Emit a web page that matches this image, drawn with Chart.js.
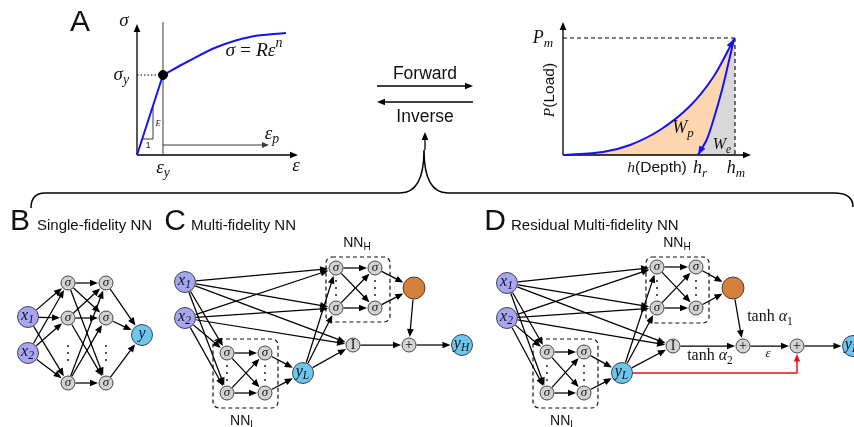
<!DOCTYPE html>
<html>
<head>
<meta charset="utf-8">
<script src="https://cdn.jsdelivr.net/npm/chart.js@4.4.1/dist/chart.umd.min.js"></script>
<style>
html, body { margin: 0; padding: 0; background: #fff; }
canvas { display: block; }
</style>
</head>
<body>
<canvas id="fig" width="854" height="427"></canvas>
<script>
// Diagram coordinates are in the chart's own x/y units (0..854, 0..427, y down)

// Panel A, stress-strain sketch
const elasticLine = [[137, 155], [163, 75]];
const hardeningCurve = [[163, 75], [187, 62], [217, 47], [250, 37], [286, 33]];
const yieldPoint = [[163, 75]];

// Panel A, load-depth sketch
const loadingCurve = [[563, 155], [603, 152], [630, 145], [660, 130], [690, 106], [714, 76], [734, 39]];
const unloadingCurve = [[734, 39], [728, 65], [722, 90], [714, 118], [707, 139], [698, 155]];

// axes and guide lines: [from, to, arrowhead]
const axisArrows = [
    [[137, 155], [137, 24], true], [[137, 155], [298, 155], true],
    [[563, 155], [563, 22], true], [[563, 155], [751, 155], true],
    [[377, 86], [473, 86], true], [[473, 102], [377, 102], true],
    [[425, 150], [425, 132], true]
];
const thinLines = [
    [[163, 22], [163, 155], false], [[163, 145], [269, 145], true],
    [[143, 139], [153, 139], false], [[153, 139], [153, 107], false]
];
const dottedLines = [[[137, 75], [160, 75]]];
const dashedLines = [[[563, 38], [735, 38]], [[735, 38], [735, 155]]];

// big brace: move, quad, line, quad, quad, line, quad
const bracePath = [[31, 208], [31, 193], [45, 193], [400, 193], [424, 193], [424, 150], [424, 193], [448, 193], [834, 193], [853, 193], [853, 207]];

// network nodes: [id, x, y, kind, label, subscript]
const nodesB = [
    ['bx1', 28, 317, 'in', 'x', '1'], ['bx2', 28, 353, 'in', 'x', '2'],
    ['b11', 68, 283, 'hid', 'σ'], ['b12', 68, 318, 'hid', 'σ'], ['b13', 68, 383, 'hid', 'σ'],
    ['b21', 106, 283, 'hid', 'σ'], ['b22', 106, 318, 'hid', 'σ'], ['b23', 106, 383, 'hid', 'σ'],
    ['by', 142, 335, 'out', 'y']
];
const nodesC = [
    ['cx1', 185, 282, 'in', 'x', '1'], ['cx2', 185, 318, 'in', 'x', '2'],
    ['cl1', 227, 353, 'hid', 'σ'], ['cl2', 265, 353, 'hid', 'σ'],
    ['cl3', 227, 393, 'hid', 'σ'], ['cl4', 265, 393, 'hid', 'σ'],
    ['cyl', 303, 373, 'out', 'y', 'L'],
    ['ch1', 336, 268, 'hid', 'σ'], ['ch2', 375, 268, 'hid', 'σ'],
    ['ch3', 336, 308, 'hid', 'σ'], ['ch4', 375, 308, 'hid', 'σ'],
    ['co', 414, 288, 'org', ''],
    ['ci', 353, 345, 'op', 'I'], ['cp', 409, 345, 'op', '+'],
    ['cyh', 462, 345, 'out', 'y', 'H']
];
const nodesD = [
    ['dx1', 507, 283, 'in', 'x', '1'], ['dx2', 507, 318, 'in', 'x', '2'],
    ['dl1', 547, 352, 'hid', 'σ'], ['dl2', 584, 352, 'hid', 'σ'],
    ['dl3', 547, 393, 'hid', 'σ'], ['dl4', 584, 393, 'hid', 'σ'],
    ['dyl', 622, 373, 'out', 'y', 'L'],
    ['dh1', 657, 267, 'hid', 'σ'], ['dh2', 696, 267, 'hid', 'σ'],
    ['dh3', 657, 308, 'hid', 'σ'], ['dh4', 696, 308, 'hid', 'σ'],
    ['do', 733, 288, 'org', ''],
    ['di', 673, 346, 'op', 'I'], ['dp1', 743, 346, 'op', '+'], ['dp2', 797, 346, 'op', '+'],
    ['dyh', 853, 346, 'out', 'y', 'H']
];

const edgesB = [
    ['bx1', 'b11'], ['bx1', 'b12'], ['bx1', 'b13'], ['bx2', 'b11'], ['bx2', 'b12'], ['bx2', 'b13'],
    ['b11', 'b21'], ['b11', 'b22'], ['b11', 'b23'], ['b12', 'b21'], ['b12', 'b22'], ['b12', 'b23'],
    ['b13', 'b21'], ['b13', 'b22'], ['b13', 'b23'],
    ['b21', 'by'], ['b22', 'by'], ['b23', 'by']
];
const edgesC = [
    ['cx1', 'ch1'], ['cx1', 'ch3'], ['cx1', 'ci'], ['cx1', 'cl1'], ['cx1', 'cl3'],
    ['cx2', 'ch1'], ['cx2', 'ch3'], ['cx2', 'ci'], ['cx2', 'cl1'], ['cx2', 'cl3'],
    ['cl1', 'cl2'], ['cl1', 'cl4'], ['cl3', 'cl2'], ['cl3', 'cl4'], ['cl2', 'cyl'], ['cl4', 'cyl'],
    ['cyl', 'ch1'], ['cyl', 'ch3'], ['cyl', 'ci'],
    ['ch1', 'ch2'], ['ch1', 'ch4'], ['ch3', 'ch2'], ['ch3', 'ch4'], ['ch2', 'co'], ['ch4', 'co'],
    ['co', 'cp'], ['ci', 'cp'], ['cp', 'cyh']
];
const edgesD = [
    ['dx1', 'dh1'], ['dx1', 'dh3'], ['dx1', 'di'], ['dx1', 'dl1'], ['dx1', 'dl3'],
    ['dx2', 'dh1'], ['dx2', 'dh3'], ['dx2', 'di'], ['dx2', 'dl1'], ['dx2', 'dl3'],
    ['dl1', 'dl2'], ['dl1', 'dl4'], ['dl3', 'dl2'], ['dl3', 'dl4'], ['dl2', 'dyl'], ['dl4', 'dyl'],
    ['dyl', 'dh1'], ['dyl', 'dh3'], ['dyl', 'di'],
    ['dh1', 'dh2'], ['dh1', 'dh4'], ['dh3', 'dh2'], ['dh3', 'dh4'], ['dh2', 'do'], ['dh4', 'do'],
    ['do', 'dp1'], ['di', 'dp1'], ['dp1', 'dp2'], ['dp2', 'dyh']
];
// residual skip connection y_L -> second plus (elbow)
const residualPath = [[622, 373], [797, 373], [797, 346]];

// vertical ellipsis dots
const ellipsisDots = [
    [68, 346], [68, 353], [68, 360], [106, 346], [106, 353], [106, 360],
    [227, 366], [227, 373], [227, 380], [265, 366], [265, 373], [265, 380],
    [336, 281], [336, 288], [336, 295], [375, 281], [375, 288], [375, 295],
    [547, 366], [547, 373], [547, 380], [584, 366], [584, 373], [584, 380],
    [657, 281], [657, 288], [657, 295], [696, 281], [696, 288], [696, 295]
];

// dashed sub-network boxes [x0, y0, x1, y1]
const subnetBoxes = [[326, 257, 390, 322], [213, 339, 278, 408], [646, 257, 709, 323], [533, 339, 598, 408]];

// texts
const panelLetters = [['A', 80, 23], ['B', 20, 222], ['C', 175, 222], ['D', 495, 222]];
const panelTitles = [['Single-fidelity NN', 37, 226], ['Multi-fidelity NN', 191, 226], ['Residual Multi-fidelity NN', 511, 226]];
// [x, y, parts, size, align]; part styles: i italic, r roman, s sans, _ sub, ^ sup
const mathLabels = [
    [124, 21, [['σ', 'i']], 19, 'center'],
    [129, 75, [['σ', 'i'], ['y', '_']], 19, 'right'],
    [254, 51, [['σ', 'i'], [' = ', 'r'], ['R', 'i'], ['ε', 'i'], ['n', '^']], 19.5, 'center'],
    [272, 134, [['ε', 'i'], ['p', '_']], 19, 'center'],
    [163, 168, [['ε', 'i'], ['y', '_']], 19, 'center'],
    [296, 166, [['ε', 'i']], 19, 'center'],
    [158, 124, [['E', 'i']], 8.5, 'center'],
    [148, 146, [['1', 's']], 8.5, 'center'],
    [425, 74, [['Forward', 's']], 17.5, 'center'],
    [425, 117, [['Inverse', 's']], 17.5, 'center'],
    [543, 38, [['P', 'i'], ['m', '_']], 18, 'center'],
    [657, 168, [['h', 'i'], ['(Depth)', 's']], 15.5, 'center'],
    [700, 168, [['h', 'i'], ['r', '_']], 18, 'center'],
    [736, 168, [['h', 'i'], ['m', '_']], 18, 'center'],
    [683, 128, [['W', 'i'], ['p', '_']], 18, 'center'],
    [722, 145, [['W', 'i'], ['e', '_']], 16, 'center'],
    [357, 243, [['NN', 's'], ['H', '_s']], 14, 'center'],
    [243, 421, [['NN', 's'], ['L', '_s']], 14, 'center'],
    [677, 243, [['NN', 's'], ['H', '_s']], 14, 'center'],
    [563, 421, [['NN', 's'], ['L', '_s']], 14, 'center'],
    [770, 317, [['tanh ', 'r'], ['α', 'i'], ['1', '_r']], 16, 'center'],
    [710, 356, [['tanh ', 'r'], ['α', 'i'], ['2', '_r']], 16, 'center'],
    [768, 354, [['ε', 'i']], 13, 'center']
];
const rotatedLabels = [[550, 90, [['P', 'i'], ['(Load)', 's']], 15.5]];

const SANS = '"Liberation Sans", Arial, sans-serif';
const SERIF = '"Liberation Serif", "DejaVu Serif", serif';
const BLUE = '#1414f0';
const kinds = {
    in: { r: 10.5, fill: '#a6a6f4', text: 16 },
    hid: { r: 7, fill: '#d3d3d3', text: 13 },
    out: { r: 10.5, fill: '#6dc6ee', text: 16 },
    org: { r: 11, fill: '#d2803a', text: 12 },
    op: { r: 7, fill: '#d3d3d3', text: 13 }
};

const allNodes = [...nodesB, ...nodesC, ...nodesD];
const nodeMap = {};
allNodes.forEach(n => { nodeMap[n[0]] = n; });

const pt = p => ({ x: p[0], y: p[1] });

function toPx(chart, p) {
    return [chart.scales.x.getPixelForValue(p[0]), chart.scales.y.getPixelForValue(p[1])];
}

function drawArrow(ctx, a, b, color, width, head, size) {
    const L = size || 7, W = L * 0.42;
    const ang = Math.atan2(b[1] - a[1], b[0] - a[0]);
    const c = Math.cos(ang), s = Math.sin(ang);
    ctx.strokeStyle = color;
    ctx.fillStyle = color;
    ctx.lineWidth = width;
    ctx.beginPath();
    ctx.moveTo(a[0], a[1]);
    ctx.lineTo(head ? b[0] - c * L * 0.8 : b[0], head ? b[1] - s * L * 0.8 : b[1]);
    ctx.stroke();
    if (head) arrowHead(ctx, b, ang, color, L, W);
}

function arrowHead(ctx, b, ang, color, L, W) {
    const c = Math.cos(ang), s = Math.sin(ang);
    ctx.fillStyle = color;
    ctx.beginPath();
    ctx.moveTo(b[0], b[1]);
    ctx.lineTo(b[0] - c * L + s * W, b[1] - s * L - c * W);
    ctx.lineTo(b[0] - c * L - s * W, b[1] - s * L + c * W);
    ctx.closePath();
    ctx.fill();
}

function mathText(ctx, x, y, parts, size, align) {
    const fontOf = st => {
        if (st === 'i') return `italic ${size}px ${SERIF}`;
        if (st === 'r') return `${size}px ${SERIF}`;
        if (st === 's') return `${size}px ${SANS}`;
        if (st === '_' || st === '^') return `italic ${size * 0.72}px ${SERIF}`;
        if (st === '_r') return `${size * 0.72}px ${SERIF}`;
        return `${size * 0.72}px ${SANS}`;
    };
    const dy = st => st[0] === '_' ? size * 0.3 : st === '^' ? -size * 0.38 : 0;
    let total = 0;
    const widths = parts.map(([t, st]) => {
        ctx.font = fontOf(st);
        const w = ctx.measureText(t).width;
        total += w;
        return w;
    });
    let cx = align === 'left' ? x : align === 'right' ? x - total : x - total / 2;
    ctx.textBaseline = 'middle';
    ctx.textAlign = 'left';
    ctx.fillStyle = '#111';
    parts.forEach(([t, st], i) => {
        ctx.font = fontOf(st);
        ctx.fillText(t, cx, y + dy(st));
        cx += widths[i];
    });
}

function polyPath(ctx, pts) {
    ctx.beginPath();
    pts.forEach((p, i) => i ? ctx.lineTo(p[0], p[1]) : ctx.moveTo(p[0], p[1]));
    ctx.closePath();
}

const diagramPlugin = {
    id: 'diagram',
    beforeDatasetsDraw(chart) {
        const ctx = chart.ctx;
        const P = p => toPx(chart, p);
        ctx.save();

        // work areas under the load-depth curve
        polyPath(ctx, [...loadingCurve, ...unloadingCurve.slice(1)].map(P));
        ctx.fillStyle = '#fdd5ae';
        ctx.fill();
        polyPath(ctx, [...unloadingCurve, [735, 155], [735, 38]].map(P));
        ctx.fillStyle = '#d8d8d8';
        ctx.fill();

        axisArrows.forEach(([a, b, h]) => drawArrow(ctx, P(a), P(b), '#000', 1.3, h, 8));
        thinLines.forEach(([a, b, h]) => drawArrow(ctx, P(a), P(b), '#3a3a3a', 1, h, 7));

        ctx.setLineDash([1.5, 2]);
        dottedLines.forEach(([a, b]) => drawArrow(ctx, P(a), P(b), '#000', 1.2, false));
        ctx.setLineDash([4, 3]);
        dashedLines.forEach(([a, b]) => drawArrow(ctx, P(a), P(b), '#000', 1.1, false));

        // dashed sub-network boxes
        subnetBoxes.forEach(bx => {
            const a = P([bx[0], bx[1]]), b = P([bx[2], bx[3]]);
            ctx.strokeStyle = '#111';
            ctx.lineWidth = 1.2;
            ctx.beginPath();
            ctx.roundRect(a[0], a[1], b[0] - a[0], b[1] - a[1], 6);
            ctx.stroke();
        });
        ctx.setLineDash([]);

        // brace
        const q = bracePath.map(P);
        ctx.strokeStyle = '#000';
        ctx.lineWidth = 1.5;
        ctx.beginPath();
        ctx.moveTo(q[0][0], q[0][1]);
        ctx.quadraticCurveTo(q[1][0], q[1][1], q[2][0], q[2][1]);
        ctx.lineTo(q[3][0], q[3][1]);
        ctx.quadraticCurveTo(q[4][0], q[4][1], q[5][0], q[5][1]);
        ctx.quadraticCurveTo(q[6][0], q[6][1], q[7][0], q[7][1]);
        ctx.lineTo(q[8][0], q[8][1]);
        ctx.quadraticCurveTo(q[9][0], q[9][1], q[10][0], q[10][1]);
        ctx.stroke();

        // network edges
        [...edgesB, ...edgesC, ...edgesD].forEach(([f, t]) => {
            const n1 = nodeMap[f], n2 = nodeMap[t];
            const a = P([n1[1], n1[2]]), b = P([n2[1], n2[2]]);
            const ang = Math.atan2(b[1] - a[1], b[0] - a[0]);
            const r1 = kinds[n1[3]].r + 0.5, r2 = kinds[n2[3]].r + 1;
            drawArrow(ctx,
                [a[0] + Math.cos(ang) * r1, a[1] + Math.sin(ang) * r1],
                [b[0] - Math.cos(ang) * r2, b[1] - Math.sin(ang) * r2],
                '#000', 1.25, true, 8);
        });

        // residual connection
        const rp = residualPath.map(P);
        const rStart = kinds.out.r, rEnd = kinds.op.r + 1;
        ctx.strokeStyle = '#f01010';
        ctx.lineWidth = 1.5;
        ctx.beginPath();
        ctx.moveTo(rp[0][0] + rStart, rp[0][1]);
        ctx.lineTo(rp[1][0], rp[1][1]);
        ctx.lineTo(rp[2][0], rp[2][1] + rEnd + 6);
        ctx.stroke();
        arrowHead(ctx, [rp[2][0], rp[2][1] + rEnd], -Math.PI / 2, '#f01010', 7.5, 3.2);

        ctx.restore();
    },
    afterDatasetsDraw(chart) {
        const ctx = chart.ctx;
        const P = p => toPx(chart, p);
        ctx.save();

        // arrowheads on the load / unload curves
        const l1 = P(loadingCurve[loadingCurve.length - 2]), l2 = P(loadingCurve[loadingCurve.length - 1]);
        arrowHead(ctx, l2, Math.atan2(l2[1] - l1[1], l2[0] - l1[0]), BLUE, 9, 3.5);
        const u1 = P(unloadingCurve[unloadingCurve.length - 2]), u2 = P(unloadingCurve[unloadingCurve.length - 1]);
        arrowHead(ctx, u2, Math.atan2(u2[1] - u1[1], u2[0] - u1[0]), BLUE, 9, 3.5);

        // node labels
        allNodes.forEach(n => {
            const c = P([n[1], n[2]]);
            const size = kinds[n[3]].text;
            if (!n[4]) return;
            if (n[4] === 'σ') mathText(ctx, c[0], c[1], [['σ', 'i']], size, 'center');
            else if (n[4] === '+' || n[4] === 'I') mathText(ctx, c[0], c[1] + 0.5, [[n[4], 'r']], size + 1, 'center');
            else if (n[5]) mathText(ctx, c[0] - 0.5, c[1] - 1.5, [[n[4], 'i'], [n[5], '_']], size, 'center');
            else mathText(ctx, c[0], c[1] - 1, [[n[4], 'i']], size, 'center');
        });

        panelLetters.forEach(([t, x, y]) => {
            const c = P([x, y]);
            mathText(ctx, c[0], c[1], [[t, 's']], 30, 'center');
        });
        panelTitles.forEach(([t, x, y]) => {
            const c = P([x, y]);
            mathText(ctx, c[0], c[1], [[t, 's']], 15, 'left');
        });
        mathLabels.forEach(([x, y, parts, size, align]) => {
            const c = P([x, y]);
            mathText(ctx, c[0], c[1], parts, size, align);
        });
        rotatedLabels.forEach(([x, y, parts, size]) => {
            const c = P([x, y]);
            ctx.save();
            ctx.translate(c[0], c[1]);
            ctx.rotate(-Math.PI / 2);
            mathText(ctx, 0, 0, parts, size, 'center');
            ctx.restore();
        });
        ctx.restore();
    }
};

const curveStyle = { showLine: true, pointRadius: 0, borderColor: BLUE, borderWidth: 2, clip: false, fill: false };

const datasets = [
    ...Object.keys(kinds).map(k => ({
        label: k,
        data: allNodes.filter(n => n[3] === k).map(n => ({ x: n[1], y: n[2] })),
        pointRadius: kinds[k].r,
        pointBackgroundColor: kinds[k].fill,
        pointBorderColor: '#333',
        pointBorderWidth: 0.9,
        showLine: false,
        clip: false
    })),
    { label: 'yield', data: yieldPoint.map(pt), pointRadius: 4.5, pointBackgroundColor: '#000', pointBorderColor: '#000', showLine: false, clip: false },
    { label: 'dots', data: ellipsisDots.map(pt), pointRadius: 0.9, pointBackgroundColor: '#000', pointBorderWidth: 0, showLine: false, clip: false },
    { label: 'elastic', data: elasticLine.map(pt), ...curveStyle, tension: 0 },
    { label: 'hardening', data: hardeningCurve.map(pt), ...curveStyle, tension: 0.35 },
    { label: 'loading', data: loadingCurve.map(pt), ...curveStyle, tension: 0.3 },
    { label: 'unloading', data: unloadingCurve.map(pt), ...curveStyle, tension: 0.3 }
];

new Chart(document.getElementById('fig'), {
    type: 'scatter',
    data: { datasets: datasets },
    options: {
        responsive: false,
        animation: false,
        events: [],
        layout: { padding: 0, autoPadding: false },
        plugins: { legend: { display: false }, tooltip: { enabled: false } },
        scales: {
            x: { type: 'linear', min: 0, max: 854, display: false },
            y: { type: 'linear', min: 0, max: 427, reverse: true, display: false }
        }
    },
    plugins: [diagramPlugin]
});
</script>
</body>
</html>
